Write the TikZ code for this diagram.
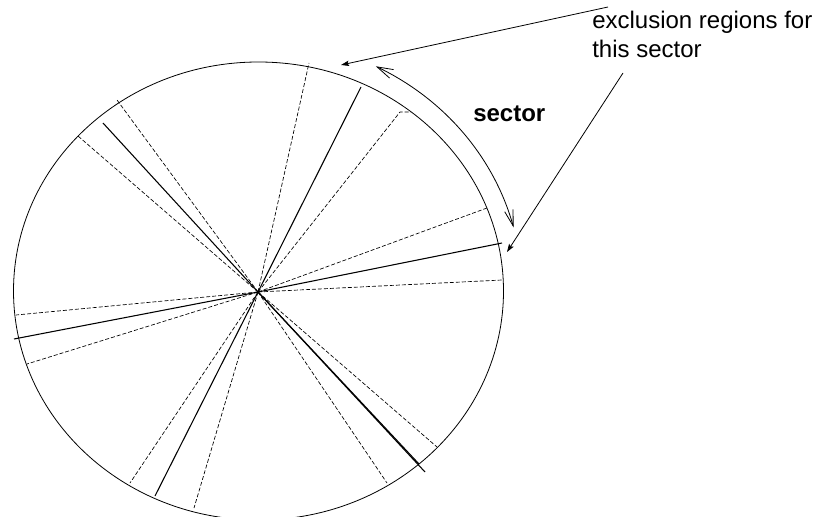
\documentclass[tikz,border=0pt]{standalone}
\usepackage{fontspec}
\setmainfont{Liberation Sans}
\usetikzlibrary{arrows.meta}
\begin{document}
\begin{tikzpicture}[x=0.75pt,y=-0.75pt,
  rim/.style={line width=0.6pt},
  ray/.style={line width=0.8pt},
  exray/.style={line width=0.5pt,dash pattern=on 3pt off 1.5pt},
  pointer/.style={line width=0.6pt,-{Stealth[length=6pt,width=4pt,inset=1pt]}},
  sweep/.style={line width=0.6pt,{Straight Barb[length=12pt,width=7pt]}-{Straight Barb[length=12pt,width=6.5pt]}},
  lbl/.style={inner sep=0pt,font=\fontsize{18}{21.6}\selectfont}]
\useasboundingbox (0,0) rectangle (817,517);
\coordinate (c) at (258,292);
% outer ellipse
\draw[rim] (258.5,291) ellipse [x radius=183.75pt, y radius=171.75pt];
% dashed exclusion boundaries
\foreach \p in {(78,136),(117,100),(309,63),(487,208),(502,280),(16,315),(27,364),(130,483),(194,508),(387,483),(437,447)}
  \draw[exray] (c) -- \p;
\draw[exray] (c) -- (400,112) -- (411,112);
% solid sector boundaries
\foreach \p in {(103,123),(361,87),(502,243),(14,339),(155,496),(425,472),(419,464)}
  \draw[ray] (c) -- \p;
% sector sweep arrow
\draw[sweep] plot[domain=63.5:14.5,samples=60,smooth] ({258+264*cos(\x)},{290-250*sin(\x)});
\node[lbl,anchor=base west,font=\fontsize{18}{21.6}\selectfont\bfseries] (sec) at (473,122) {sector};
% labels
\node[lbl,anchor=base west] (t1) at (592,29) {exclusion regions for};
\node[lbl,anchor=base west] (t2) at (592,58) {this sector};
\coordinate (s1) at (608,7);
\coordinate (e1) at (341,65);
\coordinate (s2) at (623,73);
\coordinate (e2) at (507,252);
\draw[pointer] (s1) -- (e1);
\draw[pointer] (s2) -- (e2);
\end{tikzpicture}
\end{document}
